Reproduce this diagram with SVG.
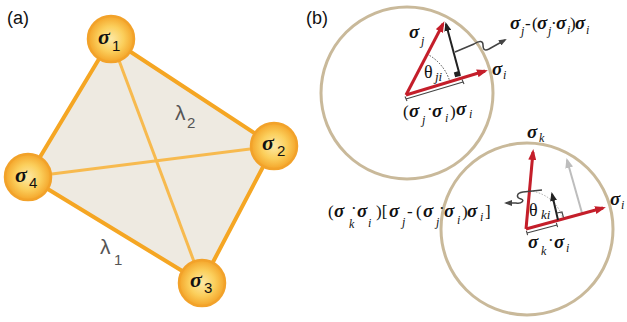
<svg xmlns="http://www.w3.org/2000/svg" width="627" height="322" viewBox="0 0 627 322">
<defs>
<radialGradient id="ball" cx="0.5" cy="0.5" r="0.5">
<stop offset="0" stop-color="#fde9a6"/>
<stop offset="0.55" stop-color="#fbcf5c"/>
<stop offset="1" stop-color="#f4a52a"/>
</radialGradient>
<marker id="hr" viewBox="0 0 11 8" refX="8" refY="4" markerWidth="11" markerHeight="8" markerUnits="userSpaceOnUse" orient="auto"><path d="M0,0 L11,4 L0,8 z" fill="#c41e2a"/></marker>
<marker id="hk" viewBox="0 0 9 7" refX="7" refY="3.5" markerWidth="9" markerHeight="7" markerUnits="userSpaceOnUse" orient="auto"><path d="M0,0 L9,3.5 L0,7 z" fill="#222"/></marker>
<marker id="hg" viewBox="0 0 10 8" refX="8" refY="4" markerWidth="10" markerHeight="8" markerUnits="userSpaceOnUse" orient="auto"><path d="M0,0 L10,4 L0,8 z" fill="#bdbdbd"/></marker>
<marker id="hd" viewBox="0 0 8 6" refX="6" refY="3" markerWidth="8" markerHeight="6" markerUnits="userSpaceOnUse" orient="auto"><path d="M0,0 L8,3 L0,6 z" fill="#444"/></marker>
</defs>
<style>
.lab{font-family:"Liberation Sans",Arial,sans-serif;font-size:18px;fill:#111}
.lam{font-family:"Liberation Sans",Arial,sans-serif;font-size:21px;fill:#555}
.lsub{font-family:"Liberation Sans",Arial,sans-serif;font-size:15px;fill:#555}
.node circle{fill:url(#ball);stroke:#f2a22a;stroke-width:2.5}
.ns{font-family:"Liberation Serif","DejaVu Serif",serif;font-weight:bold;font-style:italic;font-size:22px;fill:#111}
.nn{font-family:"Liberation Sans",Arial,sans-serif;font-size:15px;fill:#111}
.edge{stroke:#f5a623;stroke-width:4;fill:none;stroke-linecap:round}
.diag{stroke:#f7ba4f;stroke-width:3;fill:none}
.ring{fill:none;stroke:#c9b99a;stroke-width:3}
.red{stroke:#c41e2a;stroke-width:3;fill:none;marker-end:url(#hr)}
.blk{stroke:#222;stroke-width:2;fill:none;marker-end:url(#hk)}
.gry{stroke:#bdbdbd;stroke-width:2;fill:none;marker-end:url(#hg)}
.wav{stroke:#444;stroke-width:1.5;fill:none;marker-end:url(#hd)}
.brk{stroke:#444;stroke-width:1.1;fill:none}
.dot{stroke:#444;stroke-width:1;fill:none;stroke-dasharray:1.5 1.5}
.dotl{stroke:#aaa;stroke-width:1;fill:none;stroke-dasharray:1.5 1.5}
.m{font-family:"Liberation Serif","DejaVu Serif",serif;font-size:17px;fill:#111}
.b{font-weight:bold;font-style:italic;font-size:19px}
.s{font-style:italic;font-size:12px}
.th{font-family:"Liberation Serif","DejaVu Serif",serif;font-size:18px;fill:#111}
.ths{font-family:"Liberation Serif","DejaVu Serif",serif;font-style:italic;font-size:13px;fill:#111}
</style>

<!-- panel labels -->
<text class="lab" x="7" y="24">(a)</text>
<text class="lab" x="306" y="24">(b)</text>

<!-- panel (a) -->
<g id="face">
<polygon points="111,39 274,146 202,283 28,177" fill="#eeeae1"/>
</g>
<g id="connectors-a">
<line class="diag" x1="111" y1="39" x2="202" y2="283"/>
<line class="diag" x1="28" y1="177" x2="274" y2="146"/>
<line class="edge" x1="111" y1="39" x2="274" y2="146"/>
<line class="edge" x1="274" y1="146" x2="202" y2="283"/>
<line class="edge" x1="202" y1="283" x2="28" y2="177"/>
<line class="edge" x1="28" y1="177" x2="111" y2="39"/>
</g>
<g id="lambda2"><text class="lam" x="175" y="120">λ</text><text class="lsub" x="187" y="128">2</text></g>
<g id="lambda1"><text class="lam" x="100" y="254">λ</text><text class="lsub" x="114" y="265">1</text></g>
<g id="node1" class="node"><circle cx="111" cy="39" r="23"/><text class="ns" x="98" y="44">σ</text><text class="nn" x="112" y="51">1</text></g>
<g id="node2" class="node"><circle cx="274" cy="146" r="23"/><text class="ns" x="262" y="150">σ</text><text class="nn" x="277" y="156">2</text></g>
<g id="node3" class="node"><circle cx="202" cy="283" r="23"/><text class="ns" x="190" y="287">σ</text><text class="nn" x="204" y="293">3</text></g>
<g id="node4" class="node"><circle cx="28" cy="177" r="23"/><text class="ns" x="15" y="182">σ</text><text class="nn" x="29" y="188">4</text></g>

<!-- panel (b) top -->
<g id="circle-top">
<circle class="ring" cx="407" cy="93" r="86"/>
<path class="dot" d="M427 54 A46 46 0 0 1 450 82"/>
<line class="red" x1="406" y1="95" x2="443" y2="24"/>
<line class="red" x1="406" y1="95" x2="485" y2="71"/>
<line class="blk" x1="460" y1="76" x2="446" y2="24"/>
<path d="M455.2 77.3 L453.8 72.5 L458.6 71.1 L460 75.9 z" fill="#222"/>
<path class="brk" d="M406 99 L463 82 M405 96.5 L407 101 M462 79.5 L464 84"/>
<text class="m" x="409" y="38"><tspan class="b">σ</tspan><tspan class="s" x="421" y="45">j</tspan></text>
<text class="th" x="424" y="78">θ</text><text class="ths" x="435" y="81">ji</text>
<text class="m" x="492" y="75"><tspan class="b">σ</tspan><tspan class="s" x="503" y="79">i</tspan></text>
<text class="m" x="403" y="117">(<tspan class="b" x="409">σ</tspan><tspan class="s" x="422" y="124">j</tspan><tspan x="427" y="115">·</tspan><tspan class="b" x="432" y="117">σ</tspan><tspan class="s" x="445" y="122">i</tspan><tspan x="450" y="117">)</tspan><tspan class="b" x="456" y="115">σ</tspan><tspan class="s" x="469" y="118">i</tspan></text>
</g>
<g id="connector-top">
<path class="wav" d="M455 52 L474 44 C480 40 483 41 483 45 C483 50 485 51 489 49 L505 40"/>
</g>
<g id="label-top">
<text class="m" x="510" y="29"><tspan class="b">σ</tspan><tspan class="s" x="521" y="35">j</tspan><tspan x="525" y="29">-</tspan><tspan x="532" y="29">(</tspan><tspan class="b" x="537">σ</tspan><tspan class="s" x="548" y="35">j</tspan><tspan x="551" y="29">·</tspan><tspan class="b" x="556">σ</tspan><tspan class="s" x="567" y="34">i</tspan><tspan x="570" y="29">)</tspan><tspan class="b" x="575">σ</tspan><tspan class="s" x="586" y="34">i</tspan></text>
</g>

<!-- panel (b) bottom -->
<g id="circle-bottom">
<circle class="ring" cx="527" cy="229" r="86"/>
<path class="dotl" d="M530 191 A38 38 0 0 1 563 219"/>
<line class="gry" x1="582" y1="213" x2="567" y2="160"/>
<line class="red" x1="526" y1="229" x2="533" y2="152"/>
<line class="red" x1="526" y1="229" x2="603" y2="208"/>
<line class="blk" x1="558" y1="220" x2="552" y2="194"/>
<path class="brk" d="M557 213 L562 212 L563.5 217.5" stroke="#222" stroke-width="1.5"/>
<path class="brk" d="M527 233 L557 225 M526.4 230.8 L527.6 235.2 M556.4 222.8 L557.6 227.2"/>
<text class="th" x="529" y="216">θ</text><text class="ths" x="541" y="219">ki</text>
<text class="m" x="527" y="138"><tspan class="b">σ</tspan><tspan class="s" x="539" y="142">k</tspan></text>
<text class="m" x="610" y="205"><tspan class="b">σ</tspan><tspan class="s" x="621" y="209">i</tspan></text>
<text class="m" x="528" y="248"><tspan class="b">σ</tspan><tspan class="s" x="541" y="255">k</tspan><tspan x="548" y="246">·</tspan><tspan class="b" x="554" y="248">σ</tspan><tspan class="s" x="566" y="252">i</tspan></text>
</g>
<g id="connector-bottom">
<path class="wav" d="M542 190 L523 192 C516 193 516 198 521 199 C525 200 522 204 516 203 L506 203"/>
</g>
<g id="label-bottom">
<text class="m" x="328" y="217">(<tspan class="b" x="334">σ</tspan><tspan class="s" x="349" y="228">k</tspan><tspan x="351" y="214">·</tspan><tspan class="b" x="357" y="217">σ</tspan><tspan class="s" x="368" y="227">i</tspan><tspan x="376" y="217">)[</tspan><tspan class="b" x="389">σ</tspan><tspan class="s" x="402" y="226">j</tspan><tspan x="407" y="217">-</tspan><tspan x="416" y="217">(</tspan><tspan class="b" x="423">σ</tspan><tspan class="s" x="436" y="226">j</tspan><tspan x="439" y="214">·</tspan><tspan class="b" x="444" y="217">σ</tspan><tspan class="s" x="457" y="224">i</tspan><tspan x="462" y="217">)</tspan><tspan class="b" x="467">σ</tspan><tspan class="s" x="480" y="221">i</tspan><tspan x="485" y="217">]</tspan></text>
</g>
</svg>
